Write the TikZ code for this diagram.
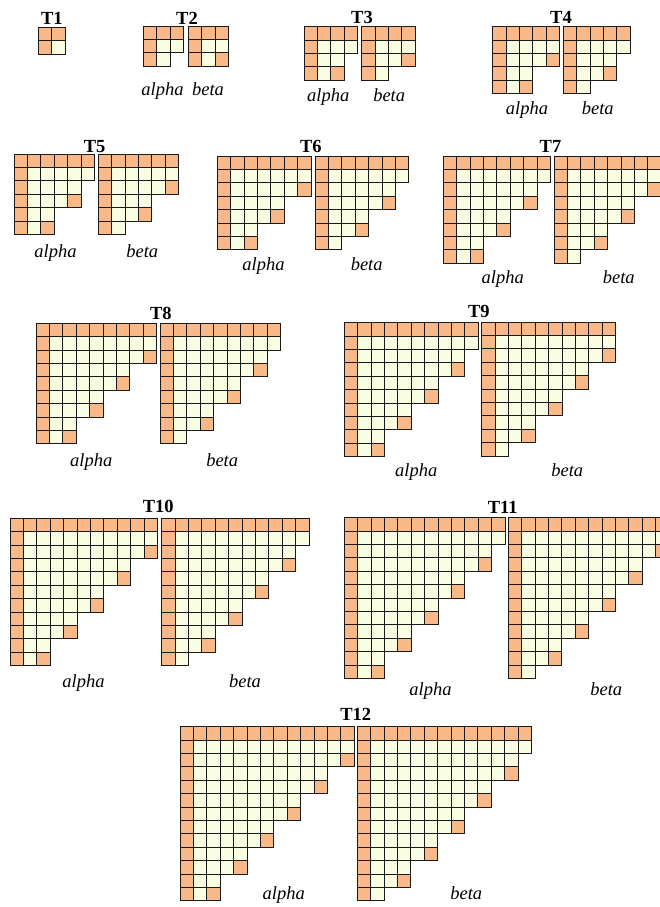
\documentclass[tikz,border=0pt]{standalone}
\usepackage{fontspec}
\setmainfont{Liberation Serif}
\definecolor{hotcell}{RGB}{248,184,136}
\definecolor{coolcell}{RGB}{249,253,226}
\newcommand{\cellsz}{13.4}

% one staircase table: top-left x, top-left y, size, variant (0 or 1)
\newcommand{\tabgrid}[4]{%
	\pgfmathtruncatemacro{\lastrow}{#3-1}
	\foreach \row in {0,...,\lastrow} {
		\pgfmathtruncatemacro{\tix}{\row+1-#4}
		\pgfmathtruncatemacro{\len}{min(#3, #3+2-#4-2*floor(\tix/2))}
		\pgfmathtruncatemacro{\lastcol}{\len-1}
		\pgfmathtruncatemacro{\edge}{(\row>0) && (\tix>2) && (mod(\tix,2)==1)}
		\foreach \col in {0,...,\lastcol} {
			\pgfmathtruncatemacro{\hot}{(\row==0) || (\col==0) || ((\col==\lastcol) && (\edge==1))}
			\ifnum\hot=1 \def\cellfill{hotcell}\else\def\cellfill{coolcell}\fi
			\draw[cell, fill=\cellfill] (#1+\col*\cellsz, #2+\row*\cellsz) rectangle ++(\cellsz, \cellsz);
		}
	}
}

\begin{document}
\begin{tikzpicture}[x=1pt, y=-1pt,
		cell/.style={draw=black!90, line width=0.95pt},
		ttl/.style={font=\fontsize{18.5}{22}\selectfont\bfseries, anchor=base, inner sep=0pt},
		lbl/.style={font=\fontsize{18.5}{22}\selectfont\itshape, anchor=base, inner sep=0pt}]
	\useasboundingbox (0,0) rectangle (660,907);
	
	% T1
	\tabgrid{38.3}{27.3}{2}{0}
	\node[ttl] (t1) at (51.8, 25) {T1};
	
	% T2
	\tabgrid{143.3}{26}{3}{1}
	\tabgrid{188.3}{26}{3}{0}
	\node[ttl] (t2) at (187, 24.5) {T2};
	\node[lbl] (t2a) at (162.5, 95) {alpha};
	\node[lbl] (t2b) at (208, 95) {beta};
	
	% T3
	\tabgrid{304}{26.7}{4}{1}
	\tabgrid{361.7}{26.7}{4}{0}
	\node[ttl] (t3) at (362, 24) {T3};
	\node[lbl] (t3a) at (328.3, 101.7) {alpha};
	\node[lbl] (t3b) at (389.2, 101.7) {beta};
	
	% T4
	\tabgrid{492.7}{26.7}{5}{0}
	\tabgrid{563.3}{26.7}{5}{1}
	\node[ttl] (t4) at (561, 24) {T4};
	\node[lbl] (t4a) at (527, 114) {alpha};
	\node[lbl] (t4b) at (597.8, 114) {beta};
	
	% T5
	\tabgrid{14}{154}{6}{1}
	\tabgrid{98.3}{154}{6}{0}
	\node[ttl] (t5) at (94.7, 152.7) {T5};
	\node[lbl] (t5a) at (55.5, 257.7) {alpha};
	\node[lbl] (t5b) at (142.3, 257.7) {beta};
	
	% T6
	\tabgrid{217.3}{156}{7}{0}
	\tabgrid{315}{156}{7}{1}
	\node[ttl] (t6) at (310.8, 152.7) {T6};
	\node[lbl] (t6a) at (263.5, 270) {alpha};
	\node[lbl] (t6b) at (366.7, 270) {beta};
	
	% T7
	\tabgrid{443.3}{156}{8}{1}
	\tabgrid{554}{156}{8}{0}
	\node[ttl] (t7) at (550.5, 152.7) {T7};
	\node[lbl] (t7a) at (502.8, 283.3) {alpha};
	\node[lbl] (t7b) at (618.8, 283.3) {beta};
	
	% T8
	\tabgrid{36}{323.3}{9}{0}
	\tabgrid{160}{323.3}{9}{1}
	\node[ttl] (t8) at (160.8, 319.3) {T8};
	\node[lbl] (t8a) at (91.3, 466.7) {alpha};
	\node[lbl] (t8b) at (222.2, 466.7) {beta};
	
	% T9
	\tabgrid{344.3}{322.7}{10}{1}
	\tabgrid{481.7}{322}{10}{0}
	\node[ttl] (t9) at (478.8, 317.3) {T9};
	\node[lbl] (t9a) at (416.2, 476.7) {alpha};
	\node[lbl] (t9b) at (567.3, 476.7) {beta};
	
	% T10
	\tabgrid{10}{518.3}{11}{0}
	\tabgrid{161.7}{518.3}{11}{1}
	\node[ttl] (t10) at (158.3, 512.7) {T10};
	\node[lbl] (t10a) at (83.5, 687.3) {alpha};
	\node[lbl] (t10b) at (245, 687.3) {beta};
	
	% T11
	\tabgrid{344.3}{517.7}{12}{1}
	\tabgrid{508.3}{517.7}{12}{0}
	\node[ttl] (t11) at (502.8, 513.3) {T11};
	\node[lbl] (t11a) at (430.5, 695) {alpha};
	\node[lbl] (t11b) at (606.3, 695) {beta};
	
	% T12
	\tabgrid{180}{726.7}{13}{0}
	\tabgrid{357.3}{726.7}{13}{1}
	\node[ttl] (t12) at (355.7, 720.7) {T12};
	\node[lbl] (t12a) at (283.8, 899.3) {alpha};
	\node[lbl] (t12b) at (466.3, 899.3) {beta};
\end{tikzpicture}
\end{document}
